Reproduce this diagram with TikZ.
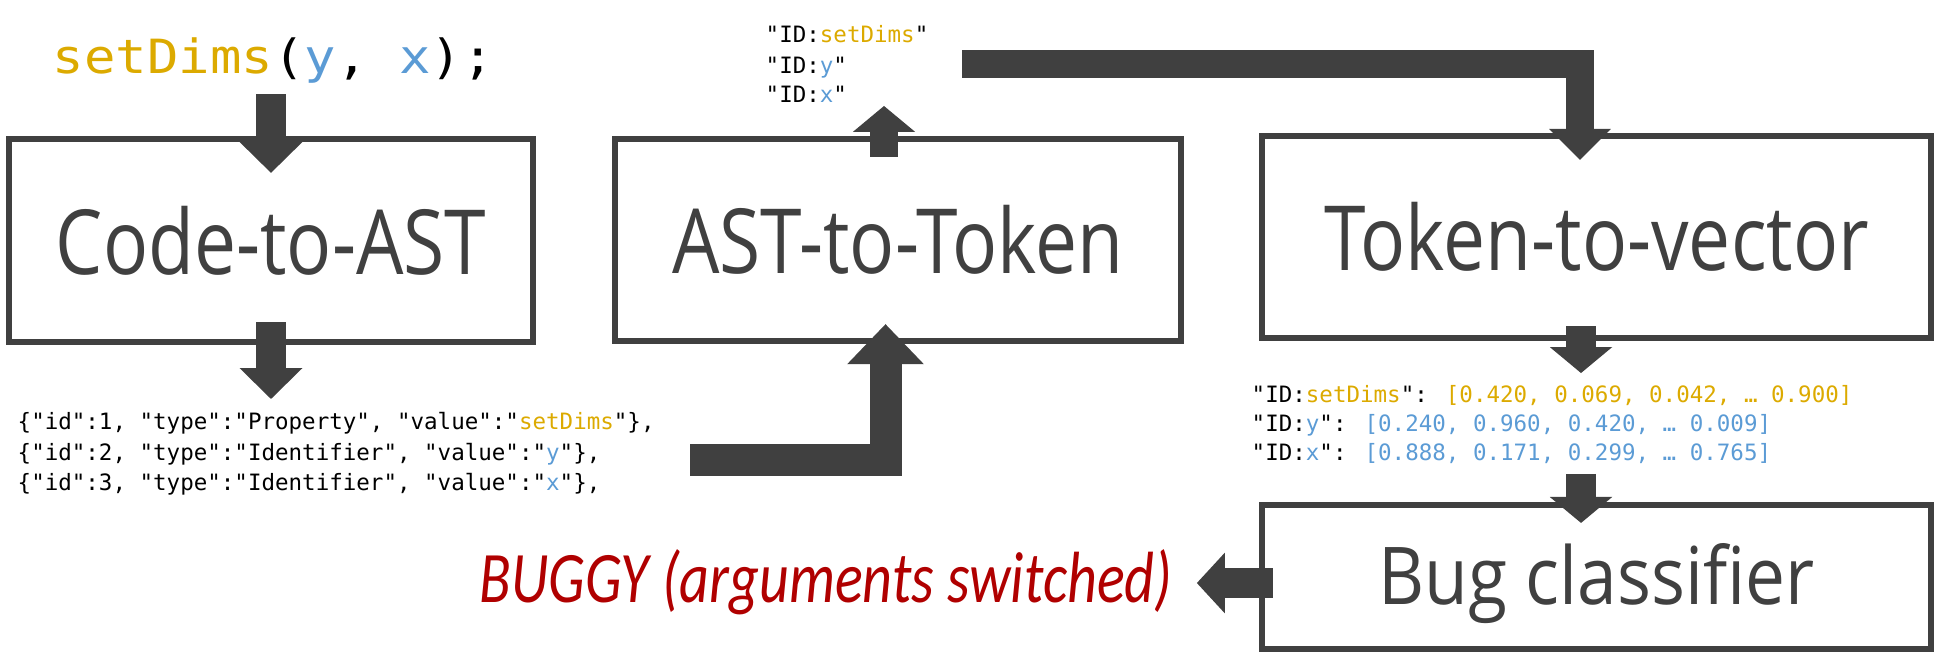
\documentclass[tikz,border=0pt]{standalone}
\usepackage{fontspec}
\usepackage{graphicx}
\usepackage{xcolor}
\usetikzlibrary{arrows.meta,calc}
\setmainfont{Open Sans}
\newfontfamily\codefont{DejaVu Sans Mono}
\newfontfamily\verdictfont{Carlito}
\definecolor{boxgray}{RGB}{64,64,64}
\definecolor{idgold}{RGB}{220,170,0}
\definecolor{idblue}{RGB}{91,155,213}
\definecolor{buggyred}{RGB}{176,0,0}
\newcommand{\idg}[1]{\textcolor{idgold}{#1}}
\newcommand{\idb}[1]{\textcolor{idblue}{#1}}

\tikzset{
  stage/.style={draw=boxgray, line width=0.06cm, outer sep=0pt, inner sep=0pt,
    text=boxgray, font=\fontsize{21.3pt}{25pt}\selectfont},
  tokline/.style={anchor=base west, inner sep=0pt,
    font=\codefont\fontsize{6.4pt}{8pt}\selectfont},
  blockarrow/.style={boxgray, line width=0.30cm,
    -{Triangle[length=0.31cm, width=0.61cm]}},
}

\begin{document}
\begin{tikzpicture}[x=0.01cm, y=-0.01cm]
\useasboundingbox (0,0) rectangle (1934,654);

% The four stages
\node[stage, minimum width=5.24cm, minimum height=2.03cm] (ast) at (271,240.5) {\scalebox{1}[1.2]{Code-to-AST}};
\node[stage, minimum width=5.66cm, minimum height=2.02cm] (tok) at (898,240) {\scalebox{1}[1.2]{AST-to-Token}};
\node[stage, minimum width=6.69cm, minimum height=2.02cm] (vec) at (1596.5,237) {\scalebox{1}[1.2]{Token-to-vector}};
\node[stage, minimum width=6.69cm, minimum height=1.44cm, font=\fontsize{20.25pt}{25pt}\selectfont] (bug) at (1596.5,577)
  {\raisebox{-0.07cm}[\height][\depth]{\scalebox{1}[1.12]{Bug classifier}}};

% Source line
\node[anchor=base west, inner sep=0pt, font=\codefont\fontsize{13.4pt}{16pt}\selectfont] (code) at (52,73)
  {\scalebox{1.11}[1]{\idg{setDims}(\idb{y}, \idb{x});}};

% Tokens
\node[tokline] (id1) at (765,42) {"ID:\idg{setDims}"};
\node[tokline] (id2) at (765,73) {"ID:\idb{y}"};
\node[tokline] (id3) at (765,102) {"ID:\idb{x}"};

% AST nodes
\node[tokline] (js1) at (17,429) {\{"id":1, "type":"Property", "value":"\idg{setDims}"\},};
\node[tokline] (js2) at (17,460) {\{"id":2, "type":"Identifier", "value":"\idb{y}"\},};
\node[tokline] (js3) at (17,490) {\{"id":3, "type":"Identifier", "value":"\idb{x}"\},};

% Vectors
\node[tokline] (v1) at (1251,402) {"ID:\idg{setDims}": \idg{[0.420, 0.069, 0.042, … 0.900]}};
\node[tokline] (v2) at (1251,431) {"ID:\idb{y}": \idb{[0.240, 0.960, 0.420, … 0.009]}};
\node[tokline] (v3) at (1251,460) {"ID:\idb{x}": \idb{[0.888, 0.171, 0.299, … 0.765]}};

% Verdict
\node[anchor=base west, inner sep=0pt, text=buggyred, font=\verdictfont\itshape\fontsize{16.5pt}{19pt}\selectfont] (verdict) at (479,602)
  {\scalebox{1}[1.25]{BUGGY (arguments switched)}};

% Arrows
\draw[blockarrow] ($(code.base -| ast.north)+(0,21)$) -- ($(ast.north)+(0,34)$);
\draw[blockarrow] ($(ast.south)+(0,-20)$) -- ($(ast.south)+(0,57)$);
\draw[blockarrow, line width=0.28cm, -{Triangle[length=0.26cm, width=0.61cm]}] ($(tok.north)+(-14,18)$) -- ($(tok.north)+(-14,-33)$);
\draw[blockarrow, line width=0.32cm, -{Triangle[length=0.40cm, width=0.74cm]}] ($(tok.south)+(-208,118.5)$) -| ($(tok.south)+(-12.5,-17)$);
\draw[blockarrow, line width=0.28cm, -{Triangle[length=0.31cm, width=0.60cm]}] ($(tok.north)+(64,-74.5)$) -| ($(vec.north)+(-16.5,24)$);
\draw[blockarrow, -{Triangle[length=0.26cm, width=0.61cm]}] ($(vec.south)+(-15.5,-12)$) -- ($(vec.south)+(-15.5,35)$);
\draw[blockarrow, -{Triangle[length=0.26cm, width=0.61cm]}] ($(bug.north)+(-15.5,-31)$) -- ($(bug.north)+(-15.5,18)$);
\draw[blockarrow, -{Triangle[length=0.28cm, width=0.59cm]}] ($(bug.west)+(11,6)$) -- ($(bug.west)+(-65,6)$);

\end{tikzpicture}
\end{document}
